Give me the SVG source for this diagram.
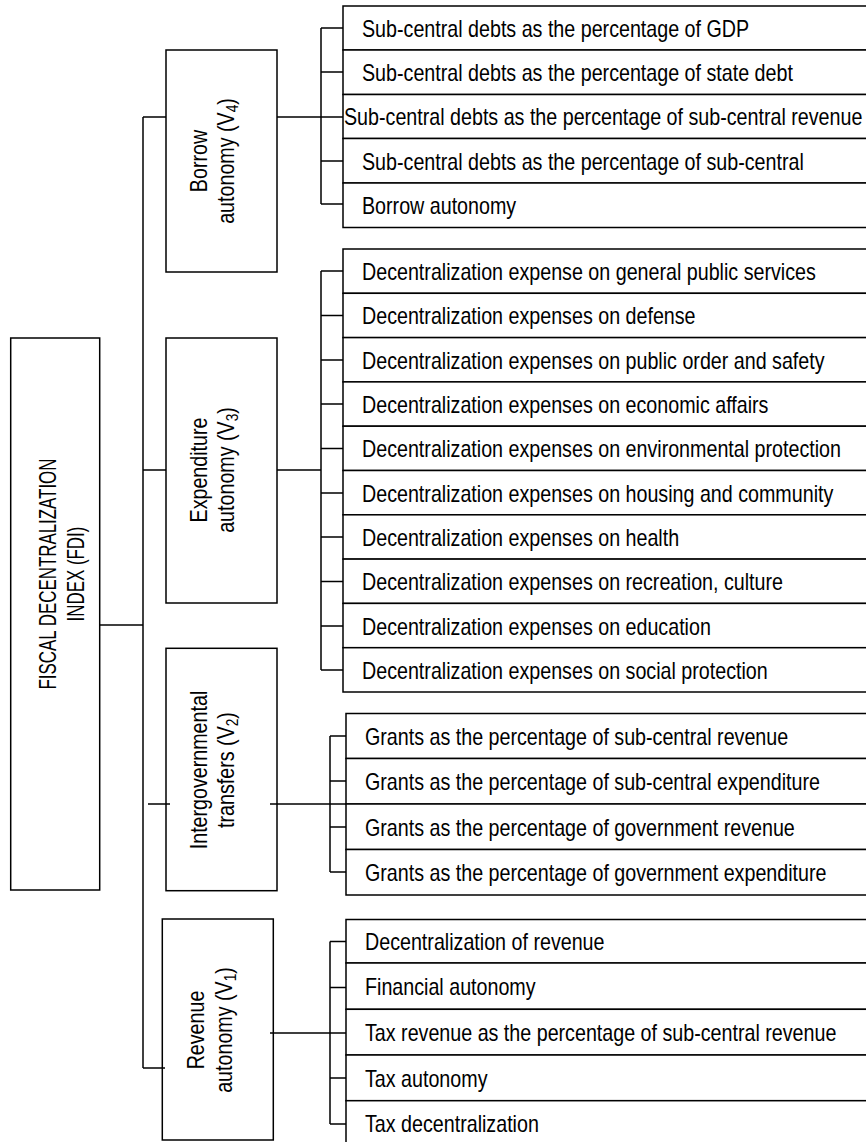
<svg xmlns="http://www.w3.org/2000/svg" width="866" height="1142" viewBox="0 0 866 1142">
<style>
.box{fill:#fff;stroke:#000;stroke-width:1.5}
.ln{fill:none;stroke:#000;stroke-width:1.5}
.t{font-family:"Liberation Sans",Arial,sans-serif;font-size:23px;fill:#000}
.f{font-family:"Liberation Sans",Arial,sans-serif;font-size:23px;fill:#000}
.sub{font-size:16px}
</style>
<rect width="866" height="1142" fill="#fff"/>
<g id="fdi">
<rect class="box" x="10.7" y="338" width="89" height="552"/>
<text class="f" text-anchor="middle" transform="translate(56,574) rotate(-90) scale(0.735,1)">FISCAL DECENTRALIZATION</text>
<text class="f" text-anchor="middle" transform="translate(84,574) rotate(-90) scale(0.735,1)">INDEX (FDI)</text>
</g>
<g id="v4">
<rect class="box" x="166" y="50" width="111" height="222"/>
<text class="t" text-anchor="middle" transform="translate(206.5,161) rotate(-90) scale(0.856,1)">Borrow</text>
<text class="t" text-anchor="middle" transform="translate(234,161) rotate(-90) scale(0.856,1)">autonomy (V<tspan class="sub" dy="4">4</tspan><tspan dy="-4">)</tspan></text>
</g>
<g id="v3">
<rect class="box" x="166" y="338" width="111" height="265"/>
<text class="t" text-anchor="middle" transform="translate(206.5,470) rotate(-90) scale(0.856,1)">Expenditure</text>
<text class="t" text-anchor="middle" transform="translate(234,470) rotate(-90) scale(0.856,1)">autonomy (V<tspan class="sub" dy="4">3</tspan><tspan dy="-4">)</tspan></text>
</g>
<g id="v2">
<rect class="box" x="166" y="648.3" width="111" height="242.4"/>
<text class="t" text-anchor="middle" transform="translate(206.5,770) rotate(-90) scale(0.856,1)">Intergovernmental</text>
<text class="t" text-anchor="middle" transform="translate(234,770) rotate(-90) scale(0.856,1)">transfers (V<tspan class="sub" dy="4">2</tspan><tspan dy="-4">)</tspan></text>
</g>
<g id="v1">
<rect class="box" x="162.3" y="919" width="111" height="221"/>
<text class="t" text-anchor="middle" transform="translate(204,1030) rotate(-90) scale(0.856,1)">Revenue</text>
<text class="t" text-anchor="middle" transform="translate(231.5,1030) rotate(-90) scale(0.856,1)">autonomy (V<tspan class="sub" dy="4">1</tspan><tspan dy="-4">)</tspan></text>
</g>
<g id="b1"><rect class="box" x="343" y="6" width="525" height="44"/><text class="t" transform="translate(362,36.5) scale(0.856,1)">Sub-central debts as the percentage of GDP</text></g>
<g id="b2"><rect class="box" x="343" y="50" width="525" height="44.5"/><text class="t" transform="translate(362,80.5) scale(0.856,1)">Sub-central debts as the percentage of state debt</text></g>
<g id="b3"><rect class="box" x="343" y="94.5" width="525" height="44"/><text class="t" transform="translate(344,125) scale(0.856,1)">Sub-central debts as the percentage of sub-central revenue</text></g>
<g id="b4"><rect class="box" x="343" y="138.5" width="525" height="44.5"/><text class="t" transform="translate(362,169.5) scale(0.856,1)">Sub-central debts as the percentage of sub-central</text></g>
<g id="b5"><rect class="box" x="343" y="183" width="525" height="44.5"/><text class="t" transform="translate(362,213.5) scale(0.856,1)">Borrow autonomy</text></g>
<g id="e1"><rect class="box" x="343" y="249" width="525" height="44.3"/><text class="t" transform="translate(362,279.5) scale(0.856,1)">Decentralization expense on general public services</text></g>
<g id="e2"><rect class="box" x="343" y="293.3" width="525" height="44.3"/><text class="t" transform="translate(362,324) scale(0.856,1)">Decentralization expenses on defense</text></g>
<g id="e3"><rect class="box" x="343" y="337.6" width="525" height="44.3"/><text class="t" transform="translate(362,368.5) scale(0.856,1)">Decentralization expenses on public order and safety</text></g>
<g id="e4"><rect class="box" x="343" y="381.9" width="525" height="44.3"/><text class="t" transform="translate(362,412.5) scale(0.856,1)">Decentralization expenses on economic affairs</text></g>
<g id="e5"><rect class="box" x="343" y="426.2" width="525" height="44.3"/><text class="t" transform="translate(362,457) scale(0.856,1)">Decentralization expenses on environmental protection</text></g>
<g id="e6"><rect class="box" x="343" y="470.5" width="525" height="44.3"/><text class="t" transform="translate(362,501.5) scale(0.856,1)">Decentralization expenses on housing and community</text></g>
<g id="e7"><rect class="box" x="343" y="514.8" width="525" height="44.3"/><text class="t" transform="translate(362,545.5) scale(0.856,1)">Decentralization expenses on health</text></g>
<g id="e8"><rect class="box" x="343" y="559.1" width="525" height="44.3"/><text class="t" transform="translate(362,590) scale(0.856,1)">Decentralization expenses on recreation, culture</text></g>
<g id="e9"><rect class="box" x="343" y="603.4" width="525" height="44.3"/><text class="t" transform="translate(362,634.5) scale(0.856,1)">Decentralization expenses on education</text></g>
<g id="e10"><rect class="box" x="343" y="647.7" width="525" height="44.3"/><text class="t" transform="translate(362,678.5) scale(0.856,1)">Decentralization expenses on social protection</text></g>
<g id="g1"><rect class="box" x="346" y="713.5" width="522" height="45"/><text class="t" transform="translate(365,744.5) scale(0.856,1)">Grants as the percentage of sub-central revenue</text></g>
<g id="g2"><rect class="box" x="346" y="758.5" width="522" height="45.5"/><text class="t" transform="translate(365,789.5) scale(0.856,1)">Grants as the percentage of sub-central expenditure</text></g>
<g id="g3"><rect class="box" x="346" y="804" width="522" height="45.5"/><text class="t" transform="translate(365,835.5) scale(0.856,1)">Grants as the percentage of government revenue</text></g>
<g id="g4"><rect class="box" x="346" y="849.5" width="522" height="45.5"/><text class="t" transform="translate(365,880.5) scale(0.856,1)">Grants as the percentage of government expenditure</text></g>
<g id="r1"><rect class="box" x="346" y="919.5" width="522" height="43.5"/><text class="t" transform="translate(365,950) scale(0.856,1)">Decentralization of revenue</text></g>
<g id="r2"><rect class="box" x="346" y="963" width="522" height="46.3"/><text class="t" transform="translate(365,995) scale(0.856,1)">Financial autonomy</text></g>
<g id="r3"><rect class="box" x="346" y="1009.3" width="522" height="45.7"/><text class="t" transform="translate(365,1040.5) scale(0.856,1)">Tax revenue as the percentage of sub-central revenue</text></g>
<g id="r4"><rect class="box" x="346" y="1055" width="522" height="45.7"/><text class="t" transform="translate(365,1086.5) scale(0.856,1)">Tax autonomy</text></g>
<g id="r5"><rect class="box" x="346" y="1100.7" width="522" height="46"/><text class="t" transform="translate(365,1132) scale(0.856,1)">Tax decentralization</text></g>
<g id="connectors">
<path class="ln" d="M143,117 V1068"/>
<path class="ln" d="M99.7,625 H143"/>
<path class="ln" d="M143,117 H166 M277,117 H343 M321,28 V204 M321,28 H343 M321,72 H343 M321,161 H343 M321,204 H343"/>
<path class="ln" d="M143,470 H166 M277,470 H321 M321,271 V670 M321,271 H343 M321,315.5 H343 M321,360 H343 M321,404 H343 M321,448.5 H343 M321,493 H343 M321,537 H343 M321,581.5 H343 M321,626 H343 M321,670 H343"/>
<path class="ln" d="M148,804 H170 M270,804 H346 M330,736 V872 M330,736 H346 M330,781 H346 M330,827 H346 M330,872 H346"/>
<path class="ln" d="M143,1068 H165 M270,1033 H346 M330,941.5 V1124 M330,941.5 H346 M330,987.5 H346 M330,1078 H346 M330,1124 H346"/>
</g>
</svg>
